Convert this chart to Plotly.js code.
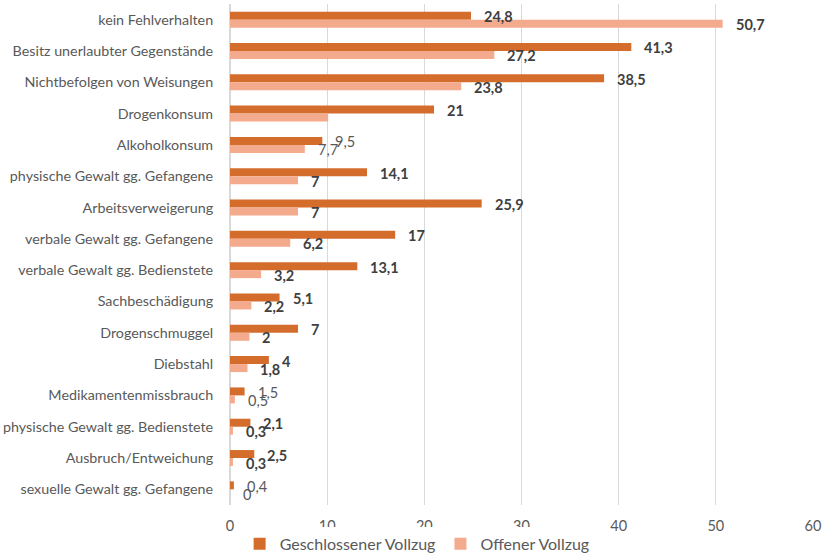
<!DOCTYPE html>
<html>
<head>
<meta charset="utf-8">
<script src="https://cdn.plot.ly/plotly-3.0.1.min.js"></script>
<style>html,body{margin:0;padding:0;background:#fff;}#chart{width:826px;height:556px;}</style>
</head>
<body>
<div id="chart"></div>
<script>
const categories = [
  'kein Fehlverhalten',
  'Besitz unerlaubter Gegenstände',
  'Nichtbefolgen von Weisungen',
  'Drogenkonsum',
  'Alkoholkonsum',
  'physische Gewalt gg. Gefangene',
  'Arbeitsverweigerung',
  'verbale Gewalt gg. Gefangene',
  'verbale Gewalt gg. Bedienstete',
  'Sachbeschädigung',
  'Drogenschmuggel',
  'Diebstahl',
  'Medikamentenmissbrauch',
  'physische Gewalt gg. Bedienstete',
  'Ausbruch/Entweichung',
  'sexuelle Gewalt gg. Gefangene'
];
const geschlossen = [24.8, 41.3, 38.5, 21, 9.5, 14.1, 25.9, 17, 13.1, 5.1, 7, 4, 1.5, 2.1, 2.5, 0.4];
const offen       = [50.7, 27.2, 23.8, 10.1, 7.7, 7, 7, 6.2, 3.2, 2.2, 2, 1.8, 0.5, 0.3, 0.3, 0];
const labelsGeschlossen = ['24,8','41,3','38,5','21','9,5','14,1','25,9','17','13,1','5,1','7','4','1,5','2,1','2,5','0,4'];
const labelsOffen       = ['50,7','27,2','23,8','','7,7','7','7','6,2','3,2','2,2','2','1,8','0,5','0,3','0,3','0'];
const seriesNames = ['Geschlossener Vollzug', 'Offener Vollzug'];
const xTicks = [0, 10, 20, 30, 40, 50, 60];

// categories whose value labels are drawn in regular (not bold) weight
const plainLabelCats = ['Alkoholkonsum', 'Medikamentenmissbrauch', 'sexuelle Gewalt gg. Gefangene'];

const FONT = 'Lato, "Liberation Sans", sans-serif';
const colors = ['#D46C2C', '#F4AA8C'];

const traces = [
  {type:'bar', orientation:'h', name:seriesNames[0], y:categories, x:geschlossen,
   marker:{color:colors[0]}, hoverinfo:'x+y'},
  {type:'bar', orientation:'h', name:seriesNames[1], y:categories, x:offen,
   marker:{color:colors[1]}, hoverinfo:'x+y'}
];

const annotations = [];
function addLabels(vals, labels, yshift) {
  vals.forEach((v, i) => {
    if (!labels[i]) return;
    const plain = plainLabelCats.includes(categories[i]);
    annotations.push({
      x: v, y: categories[i], xref:'x', yref:'y',
      text: plain ? labels[i] : '<b>' + labels[i] + '</b>',
      showarrow:false, xanchor:'left', yanchor:'middle',
      xshift: 11, yshift: yshift,
      font:{family:FONT, size:14.5, color: plain ? '#595959' : '#404040'}
    });
  });
}
addLabels(geschlossen, labelsGeschlossen, 3);
addLabels(offen, labelsOffen, -5);

const layout = {
  width:826, height:556,
  margin:{l:229.5, r:13, t:4, b:51},
  paper_bgcolor:'#fff', plot_bgcolor:'#fff',
  font:{family:FONT, color:'#595959', size:13},
  barmode:'group', bargap:0.49, bargroupgap:0,
  showlegend:true,
  legend:{orientation:'h', xref:'container', yref:'container', x:0.505, xanchor:'center',
          y:0.022, yanchor:'middle', font:{family:FONT, size:16, color:'#595959'},
          itemwidth:30, tracegroupgap:0},
  xaxis:{range:[0,60], tickvals:xTicks, ticktext:xTicks.map(String), showgrid:true,
         gridcolor:'#D9D9D9', gridwidth:1, zeroline:true, zerolinecolor:'#D9D9D9',
         showline:false, ticks:'', ticklabelstandoff:10,
         tickfont:{family:FONT, size:14.5, color:'#595959'}, fixedrange:true},
  yaxis:{type:'category', autorange:'reversed', showgrid:false, zeroline:false,
         showline:true, linecolor:'#D9D9D9', ticks:'', ticklabelstandoff:13,
         tickfont:{family:FONT, size:14.3, color:'#595959'}, fixedrange:true},
  annotations: annotations
};

Plotly.newPlot('chart', traces, layout, {displayModeBar:false, staticPlot:true});
</script>
</body>
</html>
